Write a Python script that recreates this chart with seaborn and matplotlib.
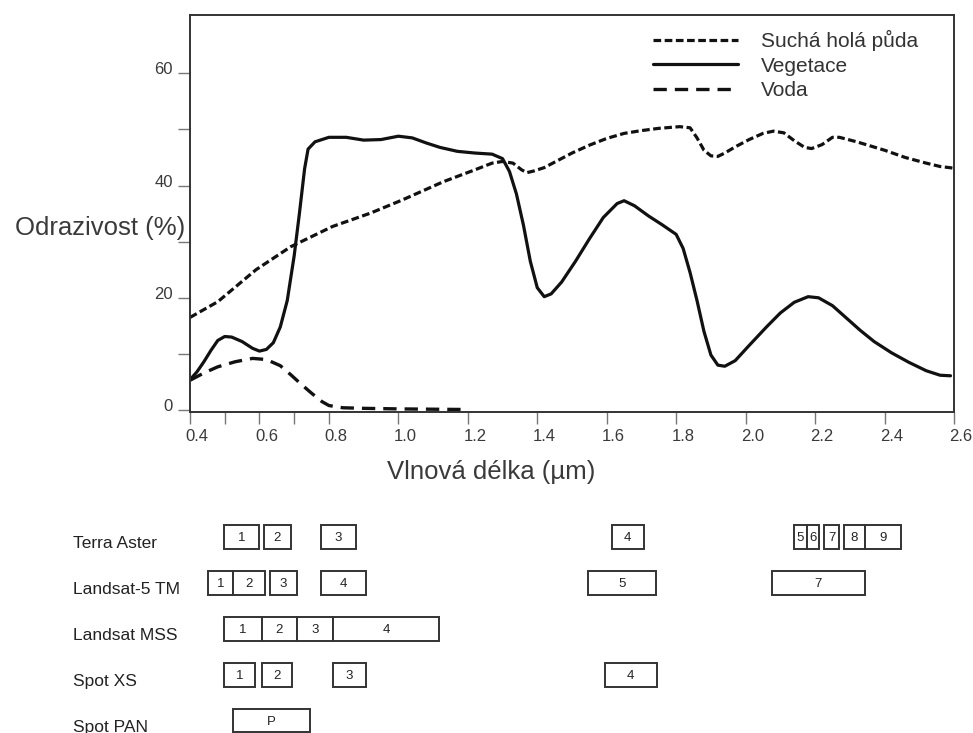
import matplotlib
matplotlib.use("Agg")
import matplotlib.pyplot as plt
import matplotlib.transforms as mtransforms
import numpy as np
import pandas as pd
import seaborn as sns

# Spectral reflectance curves (wavelength in µm, reflectance in %)
soil_wl = [0.40, 0.48, 0.59, 0.69, 0.81, 0.92, 1.01, 1.13, 1.22, 1.27, 1.30, 1.33,
           1.355, 1.37, 1.39, 1.42, 1.46, 1.50, 1.55, 1.60, 1.65, 1.70, 1.75, 1.81,
           1.84, 1.86, 1.88, 1.90, 1.92, 1.94, 1.97, 2.01, 2.05, 2.08, 2.11, 2.14,
           2.17, 2.19, 2.22, 2.25, 2.27, 2.32, 2.40, 2.46, 2.52, 2.56, 2.60]
soil_refl = [16.5, 19.3, 25.0, 29.1, 32.7, 35.1, 37.4, 40.7, 42.8, 44.0, 44.3, 44.0,
             42.8, 42.3, 42.6, 43.2, 44.5, 45.8, 47.2, 48.4, 49.3, 49.8, 50.2, 50.5,
             50.3, 48.5, 46.3, 45.3, 45.2, 45.8, 46.9, 48.2, 49.3, 49.7, 49.4, 48.0,
             46.8, 46.6, 47.3, 48.6, 48.6, 47.8, 46.3, 45.0, 44.0, 43.4, 43.1]

veg_wl = [0.40, 0.42, 0.44, 0.46, 0.48, 0.50, 0.52, 0.55, 0.58, 0.60, 0.62, 0.64,
          0.66, 0.68, 0.70, 0.715, 0.73, 0.74, 0.76, 0.80, 0.85, 0.90, 0.95, 1.00,
          1.04, 1.08, 1.12, 1.17, 1.22, 1.27, 1.30, 1.32, 1.34, 1.36, 1.38, 1.40,
          1.42, 1.44, 1.47, 1.51, 1.55, 1.59, 1.63, 1.65, 1.68, 1.72, 1.76, 1.80,
          1.82, 1.84, 1.86, 1.88, 1.90, 1.92, 1.94, 1.97, 2.01, 2.06, 2.10, 2.14,
          2.18, 2.21, 2.25, 2.29, 2.33, 2.37, 2.42, 2.47, 2.52, 2.56, 2.59]
veg_refl = [5.4, 6.8, 8.6, 10.6, 12.4, 13.1, 13.0, 12.2, 11.0, 10.5, 10.8, 12.0,
            14.8, 19.5, 27.5, 35.0, 43.0, 46.5, 47.8, 48.6, 48.6, 48.1, 48.2, 48.8,
            48.5, 47.6, 46.8, 46.1, 45.8, 45.6, 44.8, 42.5, 38.5, 33.0, 26.5, 21.8,
            20.2, 20.7, 22.8, 26.5, 30.5, 34.3, 36.8, 37.3, 36.4, 34.6, 33.0, 31.3,
            28.8, 24.5, 19.5, 14.0, 9.8, 8.0, 7.8, 8.8, 11.5, 14.8, 17.3, 19.2,
            20.2, 20.0, 18.6, 16.4, 14.2, 12.2, 10.2, 8.5, 7.0, 6.2, 6.1]

water_wl = [0.40, 0.44, 0.48, 0.53, 0.58, 0.62, 0.66, 0.69, 0.72, 0.75, 0.78,
            0.80, 0.84, 0.90, 1.00, 1.18]
water_refl = [5.3, 6.6, 7.7, 8.6, 9.2, 9.0, 7.9, 6.3, 4.6, 3.0, 1.5,
              0.8, 0.4, 0.3, 0.2, 0.1]

series_names = ["Suchá holá půda", "Vegetace", "Voda"]

# Sensor spectral bands: (start µm, end µm, band label)
sensor_names = ["Terra Aster", "Landsat-5 TM", "Landsat MSS", "Spot XS", "Spot PAN"]
aster_bands = [(0.498, 0.599, "1"), (0.613, 0.690, "2"), (0.776, 0.877, "3"),
               (1.614, 1.707, "4"), (2.139, 2.176, "5"), (2.176, 2.212, "6"),
               (2.226, 2.270, "7"), (2.283, 2.344, "8"), (2.344, 2.446, "9")]
tm_bands = [(0.453, 0.525, "1"), (0.525, 0.616, "2"), (0.630, 0.707, "3"),
            (0.776, 0.906, "4"), (1.547, 1.742, "5"), (2.075, 2.344, "7")]
mss_bands = [(0.498, 0.608, "1"), (0.608, 0.707, "2"), (0.707, 0.811, "3"),
             (0.811, 1.118, "4")]
spotxs_bands = [(0.498, 0.587, "1"), (0.606, 0.693, "2"), (0.811, 0.906, "3"),
                (1.595, 1.744, "4")]
spotpan_bands = [(0.525, 0.746, "P")]
sensor_bands = [aster_bands, tm_bands, mss_bands, spotxs_bands, spotpan_bands]

x_ticks = [0.4, 0.6, 0.8, 1.0, 1.2, 1.4, 1.6, 1.8, 2.0, 2.2, 2.4, 2.6]
x_minor = [0.5, 0.7]
y_ticks = [0, 20, 40, 60]
y_minor = [10, 30, 50]

sns.set_theme(style="white")
plt.rcParams["font.family"] = ["Liberation Sans", "DejaVu Sans"]

W, H = 973, 733
fig = plt.figure(figsize=(W / 100, H / 100), dpi=100)
fig.patch.set_facecolor("white")

# Main reflectance axes
ax = fig.add_axes([190 / W, 1 - 411.7 / H, 764 / W, (411.7 - 15) / H])

frames = [
    pd.DataFrame({"wl": soil_wl, "refl": soil_refl}),
    pd.DataFrame({"wl": veg_wl, "refl": veg_refl}),
    pd.DataFrame({"wl": water_wl, "refl": water_refl}),
]
line_styles = [(0, (2.4, 1.1)), "-", (0, (4.0, 2.4))]
line_widths = [2.3, 2.3, 2.4]
for df, name, ls, lw in zip(frames, series_names, line_styles, line_widths):
    sns.lineplot(data=df, x="wl", y="refl", ax=ax, color="#111111",
                 linestyle=ls, linewidth=lw, label=name, sort=False)

ax.set_xlim(0.4, 2.6)
ax.set_ylim(-0.3, 70.4)
ax.set_xticks(x_ticks)
ax.set_xticklabels([f"{v:.1f}" for v in x_ticks])
ax.set_xticks(x_minor, minor=True)
ax.set_yticks(y_ticks)
ax.set_yticklabels([str(v) for v in y_ticks])
ax.set_yticks(y_minor, minor=True)
for which in ("major", "minor"):
    ax.tick_params(axis="both", which=which, direction="out", length=8.5,
                   width=1.0, color="#777777", bottom=True, left=True)
ax.tick_params(axis="both", which="major", labelsize=12, labelcolor="#3a3a3a", pad=4)
for sp in ax.spines.values():
    sp.set_visible(True)
    sp.set_color("#333333")
    sp.set_linewidth(1.4)

# Nudge tick labels as laid out in the figure
for lab in ax.get_yticklabels():
    lab.set_transform(lab.get_transform() +
                      mtransforms.ScaledTranslation(0, 0.05, fig.dpi_scale_trans))
for lab in ax.get_xticklabels():
    lab.set_transform(lab.get_transform() +
                      mtransforms.ScaledTranslation(0.07, 0, fig.dpi_scale_trans))

ax.set_xlabel("Vlnová délka (µm)", fontsize=18.5, color="#3a3a3a", va="center")
ax.xaxis.set_label_coords((491.5 - 190) / 764, (411.7 - 471.5) / 396.7)
ax.set_ylabel("Odrazivost (%)", fontsize=18.5, color="#3a3a3a", rotation=0,
              ha="right", va="center")
ax.yaxis.set_label_coords((185 - 190) / 764, (411.7 - 228) / 396.7)

leg = ax.legend(loc="upper left", bbox_to_anchor=((653 - 190) / 764, (411.7 - 30) / 396.7),
                frameon=False, fontsize=15, handlelength=4.1, handletextpad=1.1,
                labelspacing=0.27, borderpad=0, borderaxespad=0)
for t in leg.get_texts():
    t.set_color("#333333")

# Sensor band chart below, sharing the wavelength scale
bx = fig.add_axes([190 / W, 0, 764 / W, (733 - 514) / H])
bx.set_xlim(0.4, 2.6)
bx.set_ylim(4.271, -0.5)
bx.axis("off")
box_h = 0.52
lab_tr = mtransforms.blended_transform_factory(bx.transAxes, bx.transData)
for row, (sensor, bands) in enumerate(zip(sensor_names, sensor_bands)):
    starts = [b[0] for b in bands]
    widths = [b[1] - b[0] for b in bands]
    bx.barh([row] * len(bands), widths, left=starts, height=box_h,
            color="white", edgecolor="#333333", linewidth=1.4, clip_on=False)
    for s, e, name in bands:
        bx.text((s + e) / 2, row, name, ha="center", va="center_baseline",
                fontsize=9.5, color="#222222")
    bx.text((73 - 190) / 764, row + 0.15, sensor, transform=lab_tr,
            ha="left", va="center", fontsize=12.5, color="#222222")

fig.savefig("out.png", dpi=100, facecolor="white")
